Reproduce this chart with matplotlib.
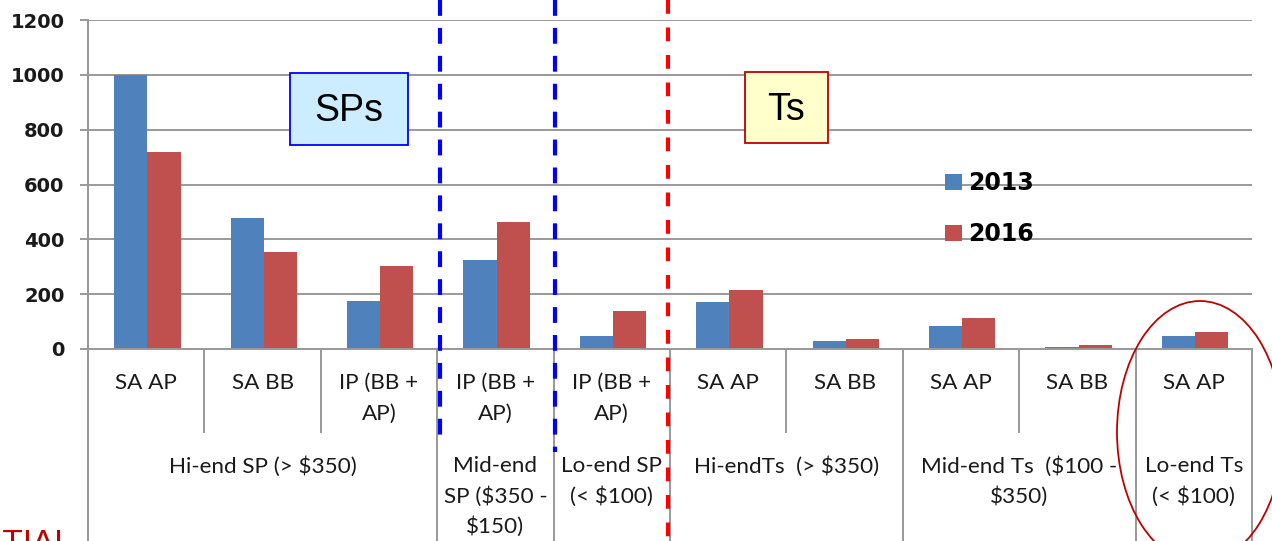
import matplotlib.pyplot as plt
from matplotlib.patches import Rectangle, Ellipse
from matplotlib.transforms import blended_transform_factory
import numpy as np

W, H = 1272, 541

# data
sub_labels = ['SA AP', 'SA BB', 'IP (BB +\nAP)', 'IP (BB +\nAP)', 'IP (BB +\nAP)',
              'SA AP', 'SA BB', 'SA AP', 'SA BB', 'SA AP']
group_labels = ['Hi-end SP (> $350)', 'Mid-end\nSP ($350 -\n$150)', 'Lo-end SP\n(< $100)',
                'Hi-endTs  (> $350)', 'Mid-end Ts  ($100 -\n$350)', 'Lo-end Ts\n(< $100)']
group_spans = [(0, 2), (3, 3), (4, 4), (5, 6), (7, 8), (9, 9)]
vals_2013 = [1000, 478, 175, 325, 48, 171, 29, 84, 7, 48]
vals_2016 = [718, 352, 303, 463, 140, 216, 36, 113, 15, 63]
series_names = ['2013', '2016']


def fx(px):
    return px / W


def fy(py):
    return 1 - py / H


fig = plt.figure(figsize=(W / 100, H / 100), dpi=100)
ax = fig.add_axes([fx(88), fy(349), fx(1252) - fx(88), fy(20) - fy(349)])

x = np.arange(len(sub_labels))
bw = 0.285
b1 = ax.bar(x - bw / 2 + 0.01, vals_2013, bw, color='#4F81BD', zorder=3)
b2 = ax.bar(x + bw / 2 + 0.01, vals_2016, bw, color='#C0504D', zorder=3)

ax.set_xlim(-0.5, len(x) - 0.5)
ax.set_ylim(0, 1200)
ax.set_yticks(range(0, 1201, 200))
ax.set_xticks([])
ax.grid(axis='y', color='#999999', linewidth=1.4, zorder=0)
for s in ['top', 'right', 'bottom']:
    ax.spines[s].set_visible(False)
ax.spines['left'].set_color('#999999')
ax.spines['left'].set_linewidth(1.4)
ax.tick_params(axis='y', length=6, width=1.4, color='#999999', pad=11)
for t in ax.get_yticklabels():
    t.set_fontfamily('DejaVu Sans')
    t.set_fontweight('bold')
    t.set_fontsize(14)
    t.set_color('#1a1a1a')

# category area below the axis
tr = blended_transform_factory(ax.transData, ax.transAxes)


def ay(py):
    return (349 - py) / 329


ax.plot([-0.5, 9.5], [0, 0], color='#999999', lw=1.4, transform=tr, clip_on=False, zorder=4)
ax.plot([-0.5, -0.5], [ay(20), ay(545)], color='#999999', lw=1.4, transform=tr, clip_on=False)
for g0, g1 in group_spans:
    ax.plot([g1 + 0.5] * 2, [0, ay(545)], color='#999999', lw=1.4, transform=tr, clip_on=False)
    for k in range(g0, g1):
        ax.plot([k + 0.5] * 2, [0, ay(432)], color='#999999', lw=1.4, transform=tr, clip_on=False)

for i, lab in enumerate(sub_labels):
    ax.text(i, ay(373), lab, transform=tr, ha='center', va='top', fontsize=16.2,
            family='Lato', color='#1a1a1a', linespacing=1.65)
for (g0, g1), lab in zip(group_spans, group_labels):
    ax.text((g0 + g1) / 2, ay(456), lab, transform=tr, ha='center', va='top', fontsize=16.2,
            family='Lato', color='#1a1a1a', linespacing=1.6)

# separators
ax.plot([2.52, 2.52], [ay(0), ay(445)], color='#0000FF', lw=3, dashes=(3.8, 2.9),
        transform=tr, clip_on=False, zorder=5)
ax.plot([3.51, 3.51], [ay(0), ay(452)], color='#0000FF', lw=3, dashes=(3.8, 2.9),
        transform=tr, clip_on=False, zorder=5)
ax.plot([4.48, 4.48], [ay(0), ay(545)], color='#FF0000', lw=3, dashes=(3.3, 3.3),
        transform=tr, clip_on=False, zorder=5)

# legend
ax.legend([b1, b2], series_names, frameon=False, loc='upper left',
          bbox_to_anchor=(fx(924), fy(150)), bbox_transform=fig.transFigure,
          prop={'family': 'DejaVu Sans', 'weight': 'bold', 'size': 17},
          handlelength=0.7, handleheight=0.7, handletextpad=0.25, labelspacing=1.15)

# annotation boxes
for (x0, y0, x1, y1, fc, ec, txt) in [(290, 73, 408, 145, '#CCECFF', '#0000FF', 'SPs'),
                                      (745, 72, 828, 143, '#FFFFCC', '#C00000', 'Ts')]:
    fig.add_artist(Rectangle((fx(x0), fy(y1)), fx(x1) - fx(x0), fy(y0) - fy(y1),
                             transform=fig.transFigure, facecolor=fc, edgecolor=ec, lw=1.3))
    fig.text(fx((x0 + x1) / 2), fy((y0 + y1) / 2 + 2), txt, ha='center', va='center',
             fontsize=27, family='Liberation Sans', color='black')

# red circle around last category
fig.add_artist(Ellipse((fx(1200), fy(432)), fx(166), 262 / H, transform=fig.transFigure,
                       fill=False, edgecolor='#C00000', lw=1.3))

# cut-off watermark at bottom left
fig.text(fx(73), fy(529), 'CONFIDENTIAL', ha='right', va='top', fontsize=24,
         family='Liberation Sans', color='#C00000')

fig.savefig('out.png', dpi=100)
